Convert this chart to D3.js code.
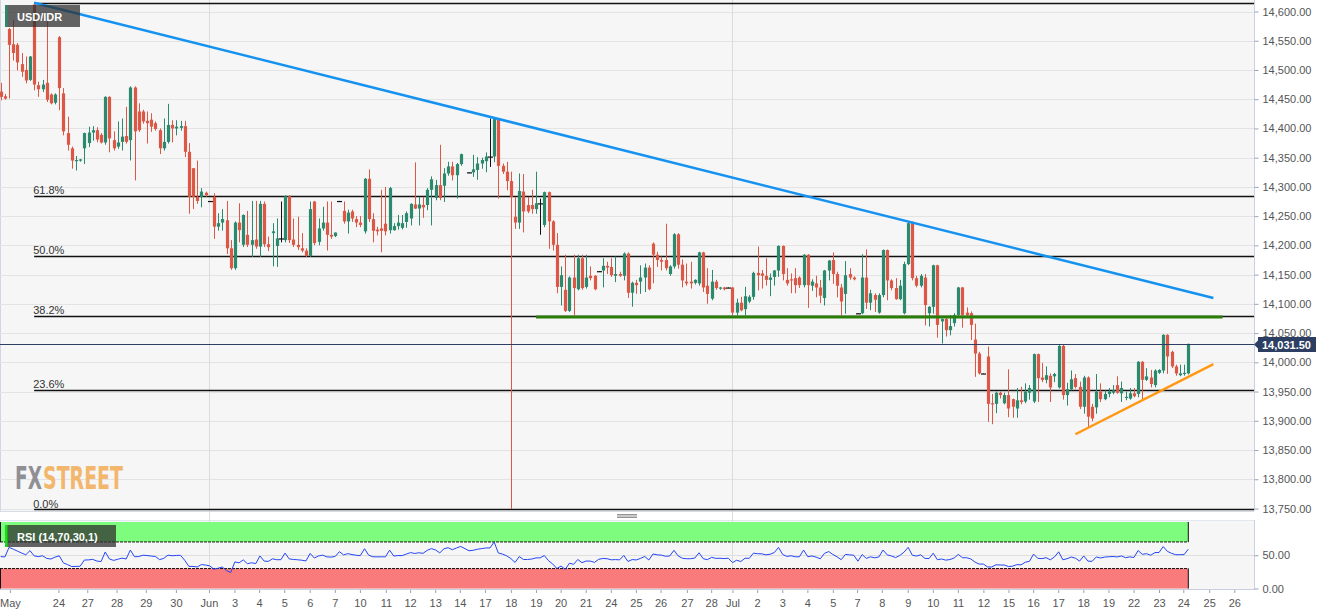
<!DOCTYPE html>
<html>
<head>
<meta charset="utf-8">
<script src="https://cdn.jsdelivr.net/npm/d3@7"></script>
<style>
    body { margin: 0; background: #fff; }
    svg { display: block; font-family: "Liberation Sans", Arial, sans-serif; }
</style>
</head>
<body>
<div id="chart"></div>
<script>
const symbol = "USD/IDR";

// 4h candles (null = slot with no visible candle)
const open = [
    14463, 14455, 14570, 14544, 14543, 14510, 14500, 14483, 14612, 14474, 14467, 14478,
    14458, 14444, 14556, 14460, 14392, 14366, 14345, 14345, 14366, 14375, 14393, 14397,
    14389, 14376, 14454, 14380, 14369, 14377, 14387, 14380, 14470, 14429, 14429, 14413,
    14415, 14409, 14397, 14366, 14377, 14406, 14400, 14401, 14404, 14360, 14332, 14283,
    14283, 14290, 14276, 14283, 14232, 14239, 14243, 14195, 14161, 14239, 14201, 14218,
    14201, 14210, 14198, 14271, 14202, 14221, 14199, 14212, 14209, 14284, 14210, 14201,
    14195, 14191, 14182, 14275, 14206, 14229, 14239, 14218, 14216, 14276, 14259, 14241,
    14258, 14245, 14239, 14224, 14314, 14245, 14227, 14229, 14237, 14226, 14226, 14233,
    14230, 14240, 14246, 14270, 14263, 14269, 14269, 14295, 14281, 14303, 14302, 14323,
    14335, 14320, 14339, null, 14325, 14325, 14329, 14340, 14344, 14352, 14352, 14416,
    14336, 14326, 14310, 14249, 14239, 14292, 14269, 14269, 14262, 14272, 14235, 14291,
    14241, 14201, 14129, 14124, 14088, 14145, 14125, 14178, 14129, 14148, 14148, 14156,
    14157, 14165, 14163, 14148, 14151, 14148, 14186, 14119, 14136, 14138, 14145, 14162,
    14203, 14184, 14175, 14175, 14151, 14164, 14219, 14167, 14138, 14138, 14136, 14135,
    14188, 14131, 14109, 14138, 14126, 14128, 14128, 14128, 14085, 14102, 14091, 14104,
    14112, 14153, 14152, 14148, 14141, 14146, 14157, 14199, 14141, 14142, 14144, 14145,
    14132, 14184, 14131, 14135, 14128, 14110, 14157, 14175, 14151, 14128, 14117, 14151,
    14145, 14084, 14084, 14145, 14102, 14115, 14085, 14115, 14192, 14140, 14127, 14108,
    14084, 14168, 14238, 14144, 14131, 14145, 14084, 14095, 14166, 14070, 14074, 14055,
    14067, 14081, 14128, 14085, 14084, 14039, 14015, 13981, 14010, 13930, 13929, 13948,
    13930, 13944, 13937, 13921, 13935, 13933, 13948, 13933, 14014, 13974, 13970, 13977,
    13976, 13957, 14028, 13944, 13954, 13973, 13958, 13924, 13974, 13924, 13923, 13950,
    13937, 13946, 13948, 13961, 13947, 13940, 13938, 13947, 13946, 14001, 13970, 13974,
    13961, 13982, 13986, 14047, 14018, 13993, 13978, 13980, 13981
];
const high = [
    14478, 14459, 14572, 14586, 14546, 14529, 14523, 14524, 14615, 14480, 14483, 14586,
    14460, 14460, 14558, 14469, 14420, 14369, 14353, 14348, 14393, 14403, 14404, 14402,
    14392, 14455, 14455, 14395, 14412, 14417, 14437, 14472, 14472, 14443, 14432, 14429,
    14426, 14412, 14400, 14417, 14442, 14414, 14414, 14413, 14413, 14375, 14332, 14345,
    14298, 14292, 14276, 14289, 14255, 14262, 14276, 14209, 14241, 14272, 14253, 14259,
    14276, 14276, 14276, 14275, 14215, 14238, 14246, 14275, 14286, 14286, 14246, 14249,
    14221, 14195, 14275, 14276, 14246, 14266, 14275, 14275, 14222, 14276, 14275, 14261,
    14261, 14250, 14250, 14315, 14330, 14255, 14232, 14295, 14300, 14300, 14238, 14252,
    14252, 14258, 14272, 14342, 14283, 14283, 14298, 14318, 14312, 14372, 14332, 14343,
    14343, 14341, 14357, null, 14325, 14355, 14351, 14350, 14359, 14417, 14417, 14417,
    14340, 14343, 14326, 14283, 14323, 14322, 14283, 14295, 14326, 14280, 14292, 14292,
    14243, 14221, 14164, 14184, 14147, 14184, 14184, 14184, 14184, 14164, 14149, 14156,
    14178, 14172, 14178, 14181, 14155, 14188, 14188, 14138, 14141, 14166, 14169, 14166,
    14205, 14189, 14181, 14237, 14166, 14221, 14221, 14176, 14169, 14172, 14142, 14189,
    14189, 14161, 14158, 14141, 14129, 14129, 14128, 14129, 14109, 14112, 14129, 14115,
    14155, 14198, 14158, 14178, 14152, 14158, 14200, 14200, 14161, 14152, 14161, 14147,
    14185, 14185, 14142, 14148, 14141, 14158, 14175, 14188, 14155, 14134, 14173, 14161,
    14147, 14084, 14185, 14193, 14124, 14118, 14118, 14193, 14193, 14142, 14144, 14141,
    14172, 14241, 14241, 14148, 14151, 14151, 14096, 14167, 14167, 14075, 14078, 14081,
    14084, 14129, 14129, 14094, 14087, 14066, 14018, 13981, 14027, 13946, 13950, 13950,
    13948, 13988, 13938, 13956, 13958, 13964, 13961, 14015, 14015, 13999, 13993, 13981,
    13982, 14030, 14030, 13965, 13986, 13980, 13967, 13977, 13976, 13929, 13980, 13964,
    13952, 13956, 13961, 13976, 13967, 13950, 13956, 13956, 14002, 14002, 13990, 13987,
    13988, 13988, 14048, 14048, 14020, 13996, 13996, 13996, 14032
];
const low = [
    14449, 14450, 14452, 14517, 14500, 14489, 14478, 14482, 14466, 14455, 14463, 14446,
    14442, 14442, 14432, 14389, 14363, 14332, 14329, 14344, 14340, 14369, 14380, 14377,
    14375, 14373, 14360, 14363, 14366, 14363, 14375, 14346, 14312, 14395, 14409, 14375,
    14395, 14397, 14357, 14363, 14375, 14377, 14389, 14397, 14352, 14255, 14263, 14272,
    14266, 14284, 14276, 14212, 14226, 14226, 14186, 14159, 14159, 14206, 14198, 14198,
    14181, 14195, 14181, 14198, 14191, 14165, 14164, 14206, 14206, 14205, 14198, 14193,
    14189, 14181, 14181, 14201, 14201, 14226, 14192, 14212, 14215, 14276, 14238, 14221,
    14241, 14232, 14232, 14221, 14241, 14206, 14218, 14189, 14218, 14221, 14226, 14228,
    14228, 14231, 14235, 14263, 14235, 14248, 14261, 14235, 14278, 14278, 14275, 14320,
    14312, 14281, 14337, null, 14325, 14318, 14313, 14332, 14326, 14335, 14343, 14281,
    14323, 14295, 13750, 14229, 14229, 14223, 14256, 14255, 14255, 14219, 14232, 14195,
    14192, 14119, 14098, 14087, 14087, 14081, 14124, 14125, 14127, 14141, 14124, 14156,
    14129, 14152, 14147, 14138, 14147, 14141, 14111, 14096, 14118, 14118, 14121, 14124,
    14136, 14164, 14158, 14158, 14149, 14161, 14161, 14129, 14132, 14127, 14134, 14132,
    14121, 14101, 14107, 14125, 14125, 14124, 14128, 14081, 14081, 14088, 14081, 14102,
    14108, 14124, 14127, 14132, 14114, 14132, 14147, 14141, 14132, 14119, 14119, 14128,
    14129, 14094, 14123, 14112, 14102, 14098, 14141, 14135, 14112, 14081, 14084, 14142,
    14141, 14084, 14083, 14092, 14090, 14087, 14084, 14112, 14107, 14124, 14108, 14107,
    14083, 14167, 14141, 14129, 14129, 14064, 14062, 14084, 14043, 14033, 14045, 14047,
    14062, 14078, 14060, 14079, 14039, 13976, 13980, 13981, 13899, 13895, 13914, 13939,
    13929, 13907, 13906, 13906, 13929, 13931, 13937, 13931, 13933, 13967, 13965, 13933,
    13967, 13956, 13937, 13927, 13953, 13956, 13921, 13913, 13889, 13900, 13913, 13933,
    13936, 13941, 13946, 13947, 13933, 13936, 13937, 13941, 13941, 13937, 13969, 13958,
    13958, 13981, 13982, 13981, 13991, 13978, 13977, 13978, 13980
];
const close = [
    14454, 14451, 14543, 14529, 14513, 14497, 14482, 14523, 14475, 14467, 14475, 14449,
    14443, 14458, 14469, 14395, 14372, 14345, 14346, 14347, 14392, 14393, 14397, 14381,
    14376, 14454, 14383, 14366, 14376, 14386, 14377, 14470, 14395, 14397, 14412, 14409,
    14403, 14399, 14366, 14377, 14406, 14400, 14403, 14404, 14360, 14283, 14283, 14276,
    14292, 14286, 14276, 14232, 14238, 14245, 14195, 14161, 14239, 14226, 14252, 14201,
    14209, 14198, 14271, 14202, 14197, 14224, 14212, 14212, 14284, 14209, 14201, 14197,
    14191, 14182, 14262, 14204, 14229, 14239, 14218, 14215, 14222, 14276, 14241, 14256,
    14246, 14239, 14235, 14314, 14245, 14225, 14224, 14225, 14224, 14298, 14233, 14239,
    14238, 14255, 14271, 14263, 14270, 14265, 14295, 14313, 14303, 14281, 14323, 14335,
    14320, 14339, 14356, null, 14325, 14330, 14340, 14346, 14352, 14352, 14416, 14336,
    14326, 14310, 14283, 14239, 14293, 14258, 14258, 14262, 14272, 14272, 14291, 14241,
    14201, 14129, 14149, 14088, 14145, 14127, 14178, 14127, 14145, 14144, 14125, 14156,
    14165, 14162, 14149, 14151, 14148, 14186, 14119, 14136, 14132, 14145, 14162, 14125,
    14184, 14175, 14172, 14161, 14164, 14219, 14167, 14140, 14135, 14135, 14141, 14188,
    14128, 14117, 14138, 14127, 14128, 14125, 14128, 14085, 14102, 14089, 14113, 14112,
    14153, 14149, 14148, 14141, 14145, 14157, 14199, 14151, 14135, 14140, 14132, 14132,
    14184, 14132, 14138, 14128, 14114, 14157, 14174, 14151, 14131, 14104, 14149, 14145,
    14142, 14084, 14145, 14102, 14118, 14107, 14115, 14192, 14140, 14127, 14108, 14131,
    14168, 14238, 14144, 14131, 14148, 14098, 14095, 14166, 14064, 14074, 14055, 14062,
    14081, 14128, 14081, 14081, 14064, 14015, 13981, 13981, 13929, 13928, 13948, 13944,
    13944, 13921, 13924, 13935, 13932, 13950, 13956, 14014, 13973, 13970, 13978, 13957,
    13980, 14028, 13944, 13954, 13971, 13958, 13924, 13974, 13907, 13904, 13950, 13937,
    13946, 13950, 13952, 13948, 13956, 13941, 13947, 13942, 14001, 13970, 13976, 13963,
    13986, 13987, 14047, 14010, 13993, 13981, 13981, 13982, 14031.5
];

// axis labels (x ticks sit at a candle slot)
const priceTicks = d3.range(13750, 14601, 50);
const dayLabels = [
    "May", "24", "27", "28", "29", "30", "Jun", "3", "4", "5", "6", "7", "10", "11", "12", "13",
    "14", "17", "18", "19", "20", "21", "24", "25", "26", "27", "28", "Jul", "2", "3", "4", "5",
    "7", "8", "9", "10", "11", "12", "15", "16", "17", "18", "19", "22", "23", "24", "25", "26"
];
const dayIdx = [
    2.2, 13.8, 20.7, 27.7, 34.7, 41.9, 49.8, 55.9, 61.8, 67.8, 73.9, 79.9, 85.9, 92.1, 97.9, 103.9,
    109.8, 115.8, 122, 128, 133.9, 139.9, 145.9, 151.9, 157.8, 164.1, 169.9, 175, 180.9, 186.9, 192.9, 199,
    204.8, 210.7, 216.9, 222.9, 228.9, 235, 241, 246.9, 252.9, 258.9, 264.9, 270.9, 277, 282.8, 289, 295
];
const monthLabels = ["Jun", "Jul"];

// fibonacci retracement between the swing low and high
const fibLow = 13749;
const fibHigh = 14615;
const fibStart = 8;
const fibRatios = [0, 0.236, 0.382, 0.5, 0.618, 1];
const fibText = ["0.0%", "23.6%", "38.2%", "50.0%", "61.8%", ""];

// drawn trend lines, [candle slot, price]
const resistance = [[8, 14615], [290, 14110]];
const support = [[128, 14077.5], [292.2, 14077.5]];
const rising = [[257, 13877], [290, 13997]];

const lastPrice = 14031.5;

// RSI: period, first reading on the picture, typical 4h move to seed the averages
const rsiPeriod = 14;
const rsiStart = 48;
const rsiSeedMove = 20;
const rsiBands = [[70, 100], [0, 30]];
const rsiTicks = [0, 50];

const W = 1331,
    H = 615,
    plotR = 1254,
    mainBottom = 511,
    rsiTop = 520,
    rsiBottom = 590,
    up = "#2b8a6e",
    down = "#dc5846";

const x = d3.scaleLinear().
    domain([0, close.length - 1]).
    range([0.7, 1188.3]);
const y = d3.scaleLinear().
    domain([13750, 14600]).
    range([508.5, 11.5]);
const yr = d3.scaleLinear().
    domain([0, 100]).
    range([588.5, 522]);

const svg = d3.select("#chart").append("svg").
    attr("width", W).
    attr("height", H);

svg.append("defs").append("clipPath").
    attr("id", "mainClip").
    append("rect").
    attr("width", plotR).
    attr("height", mainBottom);

// panel backgrounds
svg.append("rect").
    attr("width", plotR).
    attr("height", mainBottom).
    attr("fill", "#f6f6f6");
svg.append("rect").
    attr("y", rsiTop).
    attr("width", plotR).
    attr("height", rsiBottom - rsiTop).
    attr("fill", "#f6f6f6");
svg.append("line").
    attr("x1", 0).attr("x2", plotR).
    attr("y1", mainBottom + 0.5).attr("y2", mainBottom + 0.5).
    attr("stroke", "#d6dbe6");
svg.append("line").
    attr("x1", 0).attr("x2", plotR).
    attr("y1", rsiTop + 0.5).attr("y2", rsiTop + 0.5).
    attr("stroke", "#e2e6ee");
svg.append("line").
    attr("x1", 0).attr("x2", plotR).
    attr("y1", rsiBottom - 0.5).attr("y2", rsiBottom - 0.5).
    attr("stroke", "#c8d0e0");
svg.append("line").
    attr("x1", 0.5).attr("x2", 0.5).
    attr("y1", 0).attr("y2", mainBottom).
    attr("stroke", "#d0d6e4");

// grid
svg.append("g").
    selectAll("line").
    data(priceTicks).
    join("line").
    attr("x1", 0).
    attr("x2", plotR).
    attr("y1", (d) => Math.round(y(d)) + 0.5).
    attr("y2", (d) => Math.round(y(d)) + 0.5).
    attr("stroke", "#e3e3e3");

const monthIdx = monthLabels.map((m) => dayIdx[dayLabels.indexOf(m)]);
svg.append("g").
    selectAll("line").
    data(monthIdx).
    join("line").
    attr("x1", (d) => Math.round(x(d)) + 0.5).
    attr("x2", (d) => Math.round(x(d)) + 0.5).
    attr("y1", 0).
    attr("y2", rsiBottom).
    attr("stroke", "#dcdcdc");

// watermark, each word squeezed to its width on the picture
[["FX", 15, 27, "#8f9095"], ["STREET", 43, 80, "#f2b66c"]].forEach(([word, left, width, fill]) => {

    const t = svg.append("text").
        attr("font-family", "'DejaVu Sans Condensed', 'Liberation Sans Narrow', sans-serif").
        attr("font-weight", "bold").
        attr("font-size", 32).
        attr("fill", fill).
        text(word);
    const natural = t.node().getComputedTextLength();
    t.attr("transform", `translate(${left},489) scale(${width / natural},1)`);

});

// fibonacci levels
const fib = svg.append("g");
fibRatios.forEach((r, k) => {

    const price = fibLow + (fibHigh - fibLow) * r,
        yy = Math.round(y(price)) + 0.5;
    fib.append("line").
        attr("x1", x(fibStart)).
        attr("x2", plotR).
        attr("y1", yy).
        attr("y2", yy).
        attr("stroke", "#111").
        attr("stroke-width", 1.5);
    fib.append("text").
        attr("x", x(fibStart) - 1).
        attr("y", yy - (r === 0 ? 2 : 3)).
        attr("font-size", 11).
        attr("fill", "#333").
        text(fibText[k]);

});

// candles
const plot = svg.append("g").attr("clip-path", "url(#mainClip)");
const slots = d3.range(close.length).filter((i) => close[i] !== null);
const tone = (i) => close[i] > open[i] ? up : close[i] < open[i] ? down : "#111";

plot.append("g").
    selectAll("line").
    data(slots).
    join("line").
    attr("x1", (i) => Math.round(x(i)) + 0.5).
    attr("x2", (i) => Math.round(x(i)) + 0.5).
    attr("y1", (i) => y(high[i])).
    attr("y2", (i) => y(low[i]) + 0.5).
    attr("stroke", tone);

plot.append("g").
    selectAll("rect").
    data(slots).
    join("rect").
    attr("x", (i) => Math.round(x(i)) + 0.5 - (open[i] === close[i] ? 2.5 : 1.6)).
    attr("width", (i) => open[i] === close[i] ? 5 : 3.2).
    attr("y", (i) => y(Math.max(open[i], close[i]))).
    attr("height", (i) => Math.max(1.2, Math.abs(y(open[i]) - y(close[i])))).
    attr("fill", tone);

// trend lines
const seg = d3.line().
    x((d) => x(d[0])).
    y((d) => y(d[1]));
plot.append("path").
    attr("d", seg(support)).
    attr("stroke", "#2b7d09").
    attr("stroke-width", 3).
    attr("fill", "none");
plot.append("path").
    attr("d", seg(resistance)).
    attr("stroke", "#1592f0").
    attr("stroke-width", 2.5).
    attr("fill", "none");
plot.append("path").
    attr("d", seg(rising)).
    attr("stroke", "#ff9812").
    attr("stroke-width", 2.5).
    attr("fill", "none");

// last price
const lastY = Math.round(y(lastPrice)) + 0.5;
svg.append("line").
    attr("x1", 0).
    attr("x2", plotR).
    attr("y1", lastY).
    attr("y2", lastY).
    attr("stroke", "#2c3e62").
    attr("stroke-width", 1.2);

// price axis
svg.append("line").
    attr("x1", plotR + 0.5).attr("x2", plotR + 0.5).
    attr("y1", 0).attr("y2", mainBottom).
    attr("stroke", "#c8d0e2");
svg.append("line").
    attr("x1", plotR + 0.5).attr("x2", plotR + 0.5).
    attr("y1", rsiTop).attr("y2", rsiBottom).
    attr("stroke", "#c8d0e2");

const yAxis = svg.append("g").
    attr("transform", `translate(${plotR + 0.5},0)`).
    call(d3.axisRight(y).
        tickValues(priceTicks).
        tickSize(4).
        tickPadding(4).
        tickFormat(d3.format(",.2f")));
const yrAxis = svg.append("g").
    attr("transform", `translate(${plotR + 0.5},0)`).
    call(d3.axisRight(yr).
        tickValues(rsiTicks).
        tickSize(4).
        tickPadding(4).
        tickFormat(d3.format(".2f")));
[yAxis, yrAxis].forEach((a) => {

    a.select(".domain").remove();
    a.selectAll("line").attr("stroke", "#9aa3b5");
    a.selectAll("text").
        attr("font-size", 11).
        attr("font-family", "'Liberation Sans', Arial, sans-serif").
        attr("fill", "#555");

});

const tag = svg.append("g").attr("transform", `translate(${plotR},${lastY})`);
tag.append("path").
    attr("d", "M0,0 L4,-4 L4,-7.5 L62,-7.5 L62,7.5 L4,7.5 L4,4 Z").
    attr("fill", "#2c3e62");
tag.append("text").
    attr("x", 8).
    attr("y", 4).
    attr("font-size", 11).
    attr("font-weight", "bold").
    attr("fill", "#fff").
    text(d3.format(",.2f")(lastPrice));

// symbol box
const sym = svg.append("g");
sym.append("rect").
    attr("x", 5).attr("y", 5).
    attr("width", 75).attr("height", 22).
    attr("fill", "rgba(48,48,48,0.75)");
sym.append("rect").
    attr("x", 5).attr("y", 5).
    attr("width", 2.5).attr("height", 22).
    attr("fill", up);
sym.append("text").
    attr("x", 17).attr("y", 20.5).
    attr("font-size", 11).
    attr("font-weight", "bold").
    attr("fill", "#fff").
    text(symbol);

// RSI (Wilder), averages seeded from the first reading
const rsi = [[0, rsiStart]];
let avgGain = rsiSeedMove * rsiStart / 100,
    avgLoss = rsiSeedMove * (1 - rsiStart / 100),
    prev = close[0];
close.forEach((c, i) => {

    if (i === 0 || c === null) {

        return;

    }
    const change = c - prev;
    avgGain += (Math.max(change, 0) - avgGain) / rsiPeriod;
    avgLoss += (Math.max(-change, 0) - avgLoss) / rsiPeriod;
    rsi.push([i, 100 - 100 / (1 + avgGain / avgLoss)]);
    prev = c;

});

const bands = svg.append("g");
rsiBands.forEach(([lo, hi], k) => {

    const x1 = x(close.length - 1),
        fill = k === 0 ? "#7efc7e" : "#fa7b7b",
        edge = k === 0 ? lo : hi;
    bands.append("rect").
        attr("x", 0).
        attr("y", yr(hi)).
        attr("width", x1).
        attr("height", yr(lo) - yr(hi)).
        attr("fill", fill);
    bands.append("g").
        selectAll("line").
        data([0.5, x1]).
        join("line").
        attr("x1", (d) => d).
        attr("x2", (d) => d).
        attr("y1", yr(hi)).
        attr("y2", yr(lo)).
        attr("stroke", "#111");
    bands.append("line").
        attr("x1", 0).
        attr("x2", x1).
        attr("y1", yr(edge)).
        attr("y2", yr(edge)).
        attr("stroke", "#111").
        attr("stroke-dasharray", "3,1");

});

svg.append("line").
    attr("x1", 0).attr("x2", plotR).
    attr("y1", Math.round(yr(50)) + 0.5).attr("y2", Math.round(yr(50)) + 0.5).
    attr("stroke", "#dedede");

svg.append("path").
    attr("d", d3.line().
        x((d) => x(d[0])).
        y((d) => yr(d[1]))(rsi)).
    attr("fill", "none").
    attr("stroke", "#2446f5").
    attr("stroke-width", 1);

const rsiTag = svg.append("g");
rsiTag.append("rect").
    attr("x", 5).attr("y", 525).
    attr("width", 111).attr("height", 22).
    attr("fill", "rgba(48,48,48,0.75)");
rsiTag.append("rect").
    attr("x", 5).attr("y", 525).
    attr("width", 2.5).attr("height", 22).
    attr("fill", "#11e011");
rsiTag.append("text").
    attr("x", 17).attr("y", 540.5).
    attr("font-size", 11).
    attr("font-weight", "bold").
    attr("fill", "#fff").
    text(`RSI (${rsiPeriod},70,30,1)`);

// panel grip
svg.append("g").
    selectAll("line").
    data([514.5, 516, 517.5]).
    join("line").
    attr("x1", 617).
    attr("x2", 637).
    attr("y1", (d) => d).
    attr("y2", (d) => d).
    attr("stroke", "#7a7a7a").
    attr("stroke-width", 0.8);

// time axis
const xAxis = svg.append("g").
    attr("transform", `translate(0,${rsiBottom})`).
    call(d3.axisBottom(x).
        tickValues(dayIdx).
        tickSize(3).
        tickPadding(6).
        tickFormat((d, k) => dayLabels[k]));
xAxis.select(".domain").remove();
xAxis.selectAll("line").attr("stroke", "#9aa3b5");
xAxis.selectAll("text").
    attr("font-size", 11).
    attr("font-family", "'Liberation Sans', Arial, sans-serif").
    attr("fill", "#555");
</script>
</body>
</html>
